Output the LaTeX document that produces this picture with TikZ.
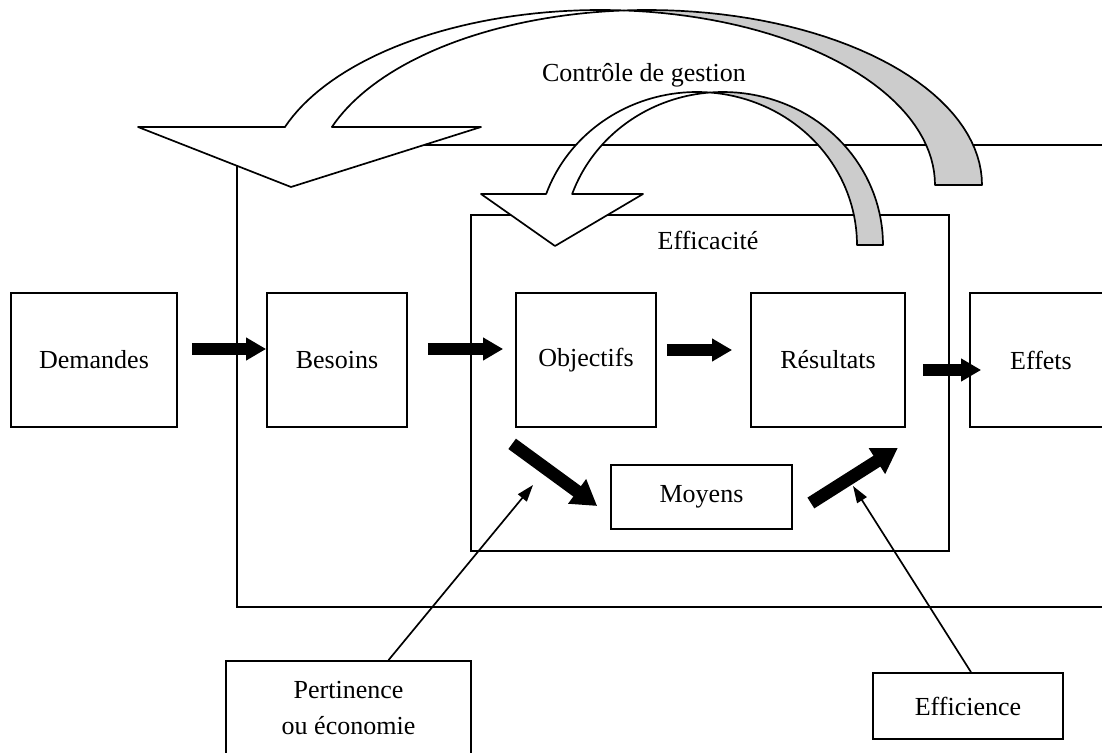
\documentclass[tikz,border=0pt]{standalone}
\usepackage{fontspec}
\setmainfont{Liberation Serif}
\usetikzlibrary{arrows.meta,calc}

\begin{document}
\begin{tikzpicture}[x = 0.025cm, y = -0.025cm, line width = 1.2pt,
                      font = \fontsize{18.5}{26}\selectfont,
                      box/.style = {draw, rectangle, inner sep = 0pt, fill = white},
                      fat/.style = {line width = 0.28cm, -{Triangle[length = 0.5cm, width = 0.54cm]}},
                      slant/.style = {line width = 0.32cm, -{Triangle[length = 0.62cm, width = 0.72cm]}},
                      pointer/.style = {line width = 1.2pt, -{Triangle[length = 0.42cm, width = 0.28cm]}},
                      ribbon/.style = {draw, fill = white, line join = round},
                      underside/.style = {draw, fill = black!20, line join = round}]
    \useasboundingbox (0, 0) rectangle (1102, 753);
    \clip (0, 0) rectangle (1102, 753);

    \draw (237, 145) rectangle (1140, 607);
    \draw (471, 215) rectangle (949, 551);
    \node (eft) at (708, 240) {Efficacité};

    \draw [ribbon] (291, 187) -- (138, 127) -- (284.9, 127)
        -- plot [domain = 160.64:85.97, samples = 40] ({600.5 + 334.5*cos(\x)}, {185 - 175*sin(\x)})
        -- plot [domain = 94.03:160.64, samples = 40] ({647.5 + 334.5*cos(\x)}, {185 - 175*sin(\x)})
        -- (481, 127) -- cycle;
    \draw [underside] plot [domain = 94.03:0, samples = 40] ({647.5 + 334.5*cos(\x)}, {185 - 175*sin(\x)})
        -- plot [domain = 0:85.97, samples = 40] ({600.5 + 334.5*cos(\x)}, {185 - 175*sin(\x)}) -- cycle;

    \draw [ribbon] (555, 246) -- (481, 194) -- (546.1, 194)
        -- plot [domain = 160.53:85.34, samples = 40] ({697 + 160*cos(\x)}, {245 - 153*sin(\x)})
        -- plot [domain = 94.66:160.53, samples = 40] ({723 + 160*cos(\x)}, {245 - 153*sin(\x)})
        -- (643, 194) -- cycle;
    \draw [underside] plot [domain = 94.66:0, samples = 40] ({723 + 160*cos(\x)}, {245 - 153*sin(\x)})
        -- plot [domain = 0:85.34, samples = 40] ({697 + 160*cos(\x)}, {245 - 153*sin(\x)}) -- cycle;

    \node (ctl) at (644, 75) {Contrôle de gestion};

    \node [box, minimum width = 4.15cm, minimum height = 3.35cm] (dem) at (94, 360) {Demandes};
    \node [box, minimum width = 3.5cm, minimum height = 3.35cm] (bes) at (337, 360) {Besoins};
    \node [box, minimum width = 3.5cm, minimum height = 3.35cm] (obj) at (586, 360) {Objectifs};
    \node [box, minimum width = 3.85cm, minimum height = 3.35cm] (res) at (828, 360) {Résultats};
    \node [box, minimum width = 3.55cm, minimum height = 3.35cm] (eff) at (1041, 360) {Effets};
    \node [box, minimum width = 4.525cm, minimum height = 1.6cm] (moy) at (701.5, 497) {Moyens};
    \node [box, minimum width = 6.125cm, minimum height = 2.35cm, align = center] (per) at (348.5, 708) {Pertinence\\ou économie};
    \node [box, minimum width = 4.75cm, minimum height = 1.65cm] (efi) at (968, 706) {Efficience};

    \draw [fat] ($(dem.east) + (14, -11)$) -- ($(bes.west) + (0, -11)$);
    \draw [fat] ($(bes.east) + (20, -11)$) -- ($(obj.west) + (-12, -11)$);
    \draw [fat] ($(obj.east) + (10, -10)$) -- ($(res.west) + (-18, -10)$);
    \draw [fat] ($(res.east) + (17, 10)$) -- ($(eff.west) + (12, 10)$);
    \draw [slant] ($(obj.south west) + (-3, 16)$) -- ($(moy.west) + (-13, 9)$);
    \draw [slant] ($(moy.east) + (18, 6)$) -- ($(res.south east) + (-8, 20)$);

    \coordinate (p1) at (533, 485);
    \coordinate (p2) at (853, 486);
    \draw [pointer] ($(per.north) + (40, 0)$) -- (p1);
    \draw [pointer] ($(efi.north) + (3, 0)$) -- (p2);
\end{tikzpicture}
\end{document}
